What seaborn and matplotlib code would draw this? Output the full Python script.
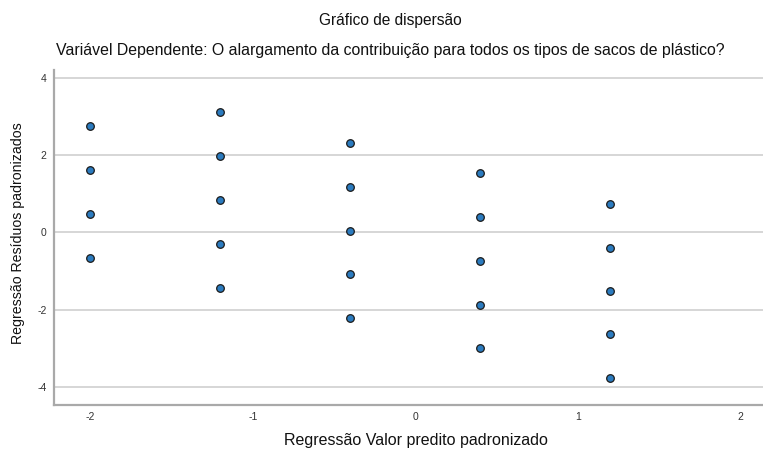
import matplotlib
matplotlib.use("Agg")
import matplotlib.pyplot as plt
import seaborn as sns
import pandas as pd

# Standardized predicted values (one column of residuals per level)
predicted = [-2.0] * 4 + [-1.2] * 5 + [-0.4] * 5 + [0.4] * 5 + [1.2] * 5
# Standardized residuals
residuals = [2.76, 1.63, 0.49, -0.65,
             3.11, 1.97, 0.84, -0.29, -1.43,
             2.33, 1.19, 0.05, -1.08, -2.21,
             1.53, 0.41, -0.74, -1.87, -2.99,
             0.74, -0.39, -1.52, -2.64, -3.77]

x_ticks = [-2, -1, 0, 1, 2]
y_ticks = [-4, -2, 0, 2, 4]

title = "Gráfico de dispersão"
subtitle = "Variável Dependente: O alargamento da contribuição para todos os tipos de sacos de plástico?"
x_label = "Regressão Valor predito padronizado"
y_label = "Regressão Resíduos padronizados"

df = pd.DataFrame({"pred": predicted, "resid": residuals})

sns.set_theme(style="white")
plt.rcParams["font.family"] = ["Liberation Sans", "DejaVu Sans"]

W, H = 763, 453
fig = plt.figure(figsize=(W / 100, H / 100), dpi=100)
ax = fig.add_axes([53.5 / W, 1 - 405 / H, 1 - 53.5 / W, (405 - 70) / H])

sns.scatterplot(data=df, x="pred", y="resid", ax=ax, s=30,
                color="#2b7bbf", edgecolor="#1a1a1a", linewidth=0.9, zorder=3)

ax.set_xlim(-2.226, 2.14)
ax.set_ylim(-4.47, 4.21)
ax.set_xticks(x_ticks)
ax.set_yticks(y_ticks)
ax.set_xticklabels([str(v) for v in x_ticks], fontsize=7.5, color="#333333")
ax.set_yticklabels([str(v) for v in y_ticks], fontsize=7.5, color="#333333")
ax.tick_params(axis="x", length=0, pad=5)
ax.tick_params(axis="y", length=0, pad=5)

ax.yaxis.grid(True, color="#cfcfcf", linewidth=1.2)
ax.xaxis.grid(False)
ax.set_axisbelow(True)

for side in ["top", "right"]:
    ax.spines[side].set_visible(False)
for side in ["left", "bottom"]:
    ax.spines[side].set_color("#a9a9a9")
    ax.spines[side].set_linewidth(1.6)

ax.set_xlabel(x_label, fontsize=11.5, color="#111111")
ax.set_ylabel(y_label, fontsize=10.2, color="#111111")
ax.xaxis.set_label_coords(416 / W, 1 - 433 / H, transform=fig.transFigure)
ax.yaxis.set_label_coords(25 / W, 1 - 233 / H, transform=fig.transFigure)

fig.text(390 / W, 1 - 20 / H, title, ha="center", va="center",
         fontsize=11.2, color="#111111")
fig.text(390 / W, 1 - 50 / H, subtitle, ha="center", va="center",
         fontsize=11.4, color="#111111")

fig.savefig("out.png", dpi=100)
